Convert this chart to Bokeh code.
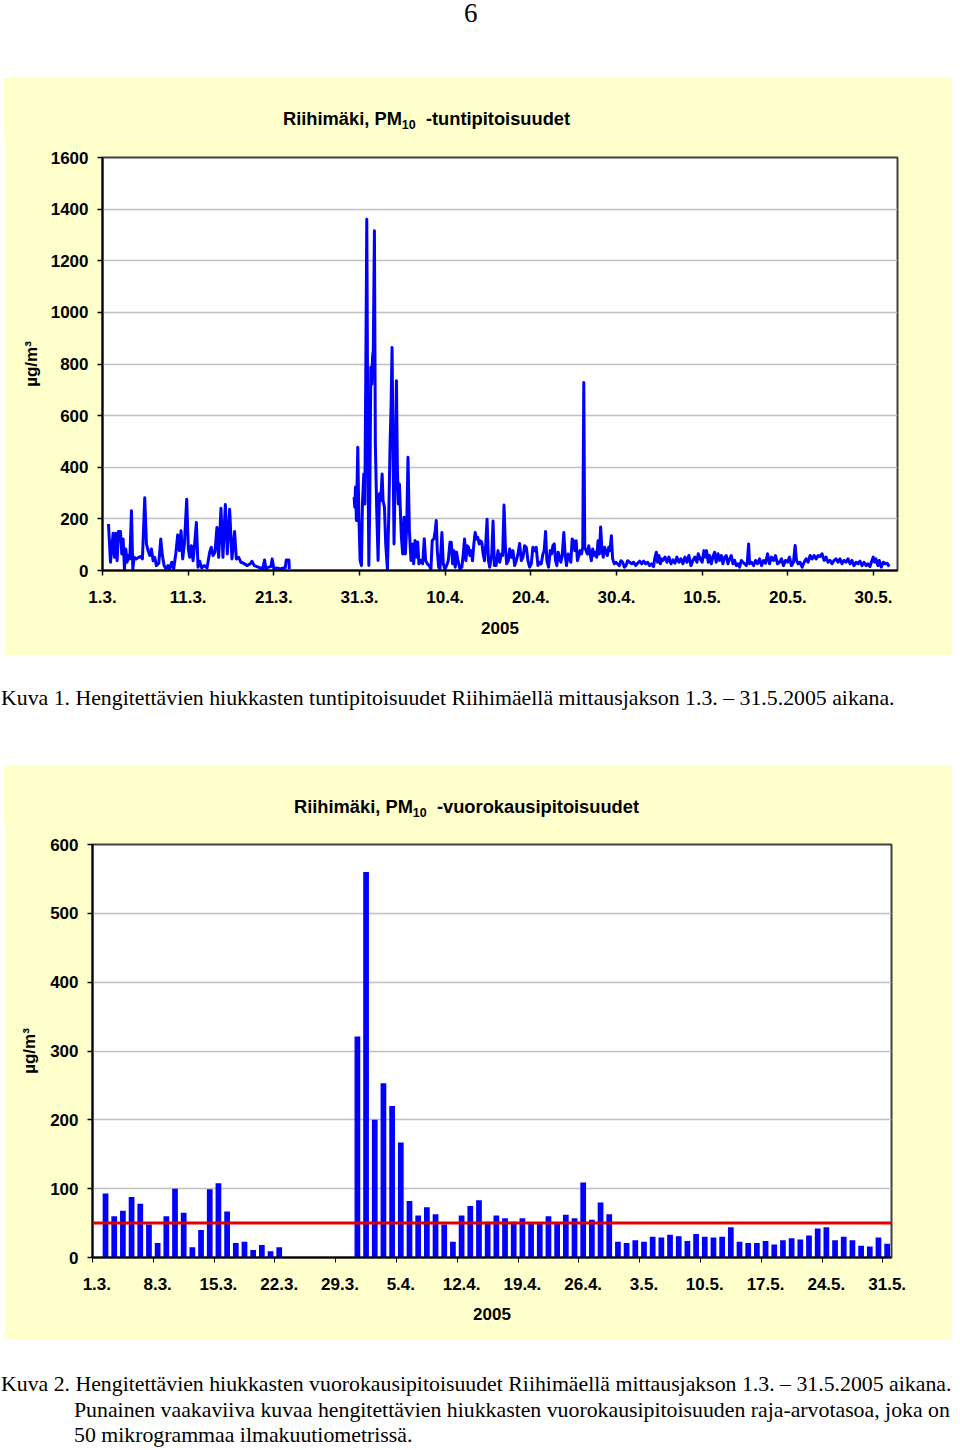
import math
from bokeh.plotting import figure
from bokeh.models import FixedTicker, Span, Div, Range1d
from bokeh.layouts import column
from bokeh.embed import file_html
from bokeh.resources import INLINE

# ---------------- data ----------------
# hourly PM10 (day offset from 1.3.2005 00:00, ug/m3)
hourly_a = [(0.70,180),(0.93,32),(1.24,144),(1.40,51),(1.55,144),(1.71,38),(1.86,151),(2.10,151),
            (2.25,64),(2.41,122),(2.56,6),(2.72,83),(2.87,32),(3.03,58),(3.19,45),(3.38,231),(3.54,6),
            (3.69,51),(3.96,45),(4.20,51),(4.43,54),(4.66,45),(4.93,282),(5.13,103),(5.32,77),(5.52,58),
            (5.71,83),(5.91,38),(6.10,51),(6.29,19),(6.57,28),(6.80,122),(6.99,58),(7.19,19),(7.42,6),
            (7.65,19),(7.85,6),(8.08,32),(8.31,6),(8.55,64),(8.78,138),(8.97,77),(9.17,154),(9.36,45),
            (9.56,103),(9.83,276),(10.02,83),(10.18,51),(10.37,96),(10.57,38),(10.72,90),(10.96,186),
            (11.15,13),(11.34,36),(11.58,10),(11.89,19),(12.20,10),(12.51,71),(12.70,90),(12.90,58),
            (13.13,71),(13.36,167),(13.56,51),(13.83,241),(14.06,51),(14.34,256),(14.57,64),(14.84,237),
            (15.11,45),(15.42,151),(15.62,45),(15.89,51),(16.16,32),(16.47,28),(16.86,19),(17.25,26),
            (17.44,36),(17.72,19),(18.03,15),(18.41,10),(18.69,6),(18.92,41),(19.08,6),(19.38,13),
            (19.66,15),(19.81,45),(20.01,6),(20.36,10),(20.74,6),(21.13,10),(21.33,10),(21.45,41),
            (21.76,41),(21.80,6)]
hourly_b = [(29.37,284),(29.45,245),(29.53,323),(29.64,194),(29.80,477),(29.91,232),(30.07,39),
            (30.23,19),(30.34,258),(30.50,374),(30.62,258),(30.73,748),(30.85,1361),(30.97,490),
            (31.09,19),(31.20,271),(31.32,787),(31.44,722),(31.52,826),(31.61,851),(31.74,1316),
            (31.85,490),(32.01,232),(32.17,39),(32.33,297),(32.48,271),(32.64,374),(32.75,271),
            (32.91,245),(33.06,103),(33.26,3),(33.41,206),(33.57,490),(33.69,645),(33.80,864),
            (33.92,452),(34.03,103),(34.15,335),(34.31,735),(34.42,400),(34.54,258),(34.66,335),
            (34.77,232),(34.89,129),(35.04,64),(35.20,206),(35.35,64),(35.51,168),(35.66,439),
            (35.82,155),(36.01,39),(36.17,103),(36.32,26),(36.48,116),(36.63,52),(36.79,110),
            (36.94,26),(37.14,39),(37.37,26),(37.56,123),(37.72,39),(37.91,26),(38.14,19),(38.34,6),
            (38.49,116),(38.69,123),(38.84,155),(38.96,194),(39.08,77),(39.24,13),(39.39,6),
            (39.62,147),(39.78,26),(39.97,6),(40.17,19),(40.36,38),(40.56,109),(40.71,109),(40.87,26),
            (41.02,77),(41.18,13),(41.33,71),(41.49,38),(41.72,6),(41.95,13),(42.11,64),(42.26,122),
            (42.42,38),(42.57,96),(42.73,90),(42.88,58),(43.04,77),(43.19,38),(43.35,103),(43.50,147),
            (43.66,122),(43.81,128),(43.97,103),(44.12,115),(44.28,109),(44.43,64),(44.59,38),
            (44.74,103),(44.89,199),(45.05,38),(45.20,13),(45.44,64),(45.59,192),(45.74,19),
            (45.94,19),(46.17,77),(46.37,32),(46.56,64),(46.71,58),(46.87,254),(47.03,90),(47.18,26),
            (47.37,38),(47.53,83),(47.72,51),(47.91,77),(48.11,19),(48.30,38),(48.50,64),(48.69,105),
            (48.89,38),(49.08,51),(49.27,96),(49.47,90),(49.66,38),(49.86,13),(50.05,26),(50.24,90),
            (50.44,77),(50.63,90),(50.83,19),(51.02,32),(51.21,26),(51.41,64),(51.56,77),(51.72,151),
            (51.87,38),(52.07,13),(52.26,77),(52.42,64),(52.57,96),(52.73,103),(52.88,38),(53.04,19),
            (53.19,71),(53.35,51),(53.50,32),(53.66,58),(53.85,147),(54.01,58),(54.16,19),(54.36,64),
            (54.51,45),(54.67,32),(54.82,122),(54.98,115),(55.13,77),(55.29,115),(55.44,38),
            (55.60,58),(55.75,77),(55.91,64),(56.06,90),(56.18,728),(56.29,90),(56.45,77),(56.60,64),
            (56.76,96),(56.91,64),(57.07,38),(57.22,83),(57.38,58),(57.53,71),(57.69,51),(57.84,115),
            (58.00,64),(58.15,169),(58.31,77),(58.46,51),(58.62,90),(58.78,71),(58.93,58),(59.09,90),
            (59.24,77),(59.40,135),(59.55,45),(59.74,26),(59.94,32),(60.13,26),(60.33,19),(60.52,38),
            (60.72,32),(60.91,13),(61.11,19),(61.30,38),(61.77,26),(62.00,32),(62.23,19),(62.47,28),
            (62.70,36),(62.94,26),(63.17,36),(63.40,26),(63.63,32),(63.87,19),(64.10,26),(64.33,15),
            (64.49,52),(64.65,71),(64.80,32),(64.96,58),(65.12,26),(65.27,45),(65.42,39),(65.66,52),
            (65.89,32),(66.12,52),(66.36,26),(66.59,41),(66.82,28),(67.05,52),(67.29,32),(67.52,45),
            (67.75,26),(67.99,52),(68.22,32),(68.45,58),(68.69,19),(68.92,39),(69.15,52),(69.39,32),
            (69.54,65),(69.77,45),(70.00,32),(70.20,77),(70.35,52),(70.51,77),(70.71,32),(70.86,58),
            (71.06,26),(71.25,52),(71.45,71),(71.64,32),(71.84,65),(72.03,39),(72.23,58),(72.42,26),
            (72.62,52),(72.81,58),(73.01,26),(73.20,45),(73.40,58),(73.59,26),(73.79,39),(73.98,19),
            (74.18,26),(74.37,13),(74.57,39),(74.76,32),(74.96,26),(75.15,19),(75.27,32),(75.42,103),
            (75.53,26),(75.77,32),(76.00,19),(76.23,39),(76.46,26),(76.70,45),(76.93,19),(77.16,39),
            (77.40,28),(77.63,65),(77.86,26),(78.09,52),(78.33,39),(78.56,58),(78.79,26),(79.03,32),
            (79.26,45),(79.49,19),(79.72,39),(79.96,32),(80.19,52),(80.42,19),(80.66,32),(80.85,97),
            (81.01,39),(81.20,26),(81.43,32),(81.67,13),(81.90,32),(82.13,45),(82.36,32),(82.60,58),
            (82.83,45),(83.06,58),(83.30,45),(83.53,58),(83.76,54),(83.99,65),(84.23,39),(84.46,52),
            (84.69,32),(84.93,39),(85.16,26),(85.39,39),(85.62,45),(85.86,32),(86.09,45),(86.32,26),
            (86.56,39),(86.79,32),(87.02,45),(87.26,26),(87.49,39),(87.72,19),(87.96,32),(88.19,26),
            (88.42,36),(88.65,19),(88.89,32),(89.12,19),(89.35,26),(89.59,15),(89.82,39),(89.97,52),
            (90.13,32),(90.28,45),(90.51,19),(90.67,39),(90.90,13),(91.14,32),(91.37,26),(91.60,28),
            (91.83,15)]

hourly_tick_days = [0, 10, 20, 30, 40, 50, 60, 70, 80, 90]
hourly_tick_labels = ["1.3.", "11.3.", "21.3.", "31.3.", "10.4.", "20.4.", "30.4.", "10.5.", "20.5.", "30.5."]

# daily means, one per day 1.3. ... 31.5. (None = no valid mean)
daily_values = [None, 93, 60, 68, 88, 78, 48, 21, 60, 100, 65, 15, 40, 99, 108, 67, 21, 23, 11, 18, 9, 15,
                None, None, None, None, None, None, None, None,
                321, 560, 200, 253, 220, 167, 82, 61, 73, 63, 48, 23, 61, 75, 83, 52, 61, 57, 52, 57,
                51, 50, 60, 50, 62, 57, 109, 55, 80, 63, 23, 21, 25, 23, 30, 29, 33, 31, 24, 34,
                30, 29, 30, 44, 23, 21, 21, 24, 19, 25, 28, 26, 32, 42, 44, 25, 30, 25, 17, 16, 29, 20]
daily_tick_labels = ["1.3.", "8.3.", "15.3.", "22.3.", "29.3.", "5.4.", "12.4.", "19.4.", "26.4.",
                     "3.5.", "10.5.", "17.5.", "24.5.", "31.5."]
limit_value = 50

# ---------------- styling ----------------
FONT = "Liberation Sans"
PANEL = "#FFFFCC"
BLUE = "#0000FF"


def style(p, ylabel):
    p.xgrid.visible = False
    p.ygrid.grid_line_color = "#C0C0C0"
    p.ygrid.grid_line_width = 1.5
    p.outline_line_color = "#404040"
    p.outline_line_width = 2
    for ax in (p.xaxis[0], p.yaxis[0]):
        ax.axis_line_color = "black"
        ax.axis_line_width = 2
        ax.major_tick_line_color = "black"
        ax.major_tick_line_width = 1.5
        ax.major_tick_in = 0
        ax.major_tick_out = 5
        ax.minor_tick_line_color = None
        ax.major_label_text_font = FONT
        ax.major_label_text_font_size = "17px"
        ax.major_label_text_font_style = "bold"
        ax.major_label_text_color = "black"
        ax.axis_label_text_font = FONT
        ax.axis_label_text_font_size = "17px"
        ax.axis_label_text_font_style = "bold"
        ax.axis_label_text_color = "black"
    p.xaxis.axis_label = "2005"
    p.yaxis.axis_label = ylabel
    p.yaxis.major_label_standoff = 9


def title_div(rest, left, top):
    html = (f"<div style=\"background:{PANEL};width:948px;height:61px;position:relative;\">"
            f"<div style=\"position:absolute;left:{left}px;top:{top}px;font-family:'{FONT}',sans-serif;"
            "font-weight:bold;font-size:18.3px;line-height:20px;white-space:nowrap;color:black;\">"
            "Riihimäki, PM<span style=\"font-size:12.5px;position:relative;top:4px;\">10</span>"
            f"&nbsp; {rest}</div></div>")
    return Div(text=html, width=948, height=60, margin=(0, 0, 0, 4),
               styles={"background-color": PANEL, "overflow": "visible"})


# ---------------- figure 1: hourly ----------------
hx = [d for d, v in hourly_a] + [math.nan] + [d for d, v in hourly_b]
hy = [v for d, v in hourly_a] + [math.nan] + [v for d, v in hourly_b]

p1 = figure(width=948, height=517, x_range=Range1d(0, 92.8), y_range=Range1d(0, 1600),
            output_backend="svg", toolbar_location=None, margin=(0, 0, 0, 4),
            min_border_left=98, min_border_right=55, min_border_top=19, min_border_bottom=85,
            background_fill_color="white", border_fill_color=PANEL)
p1.line(hx, hy, line_color=BLUE, line_width=3, line_join="round")
p1.xaxis.ticker = FixedTicker(ticks=hourly_tick_days)
p1.xaxis.major_label_overrides = {d: l for d, l in zip(hourly_tick_days, hourly_tick_labels)}
p1.yaxis.ticker = FixedTicker(ticks=list(range(0, 1601, 200)))
style(p1, "µg/m³")
p1.xaxis.major_label_standoff = 15
p1.xaxis.axis_label_standoff = 16
p1.yaxis.axis_label_standoff = 7

# ---------------- figure 2: daily ----------------
bx = [i + 0.5 for i, v in enumerate(daily_values) if v is not None]
by = [v for v in daily_values if v is not None]
label_pos = [i + 0.5 for i in range(0, len(daily_values), 7)]
bound_pos = [i for i in range(0, len(daily_values), 7)]

p2 = figure(width=948, height=515, x_range=Range1d(0, len(daily_values)), y_range=Range1d(0, 600),
            output_backend="svg", toolbar_location=None, margin=(0, 0, 0, 4),
            min_border_left=88, min_border_right=61, min_border_top=19, min_border_bottom=83,
            background_fill_color="white", border_fill_color=PANEL)
p2.vbar(x=bx, top=by, width=0.66, fill_color=BLUE, line_color=None)
p2.add_layout(Span(location=limit_value, dimension="width", line_color="#E00000", line_width=3))
p2.xaxis.ticker = FixedTicker(ticks=label_pos, minor_ticks=bound_pos)
p2.xaxis.major_label_overrides = {x: l for x, l in zip(label_pos, daily_tick_labels)}
p2.yaxis.ticker = FixedTicker(ticks=list(range(0, 601, 100)))
style(p2, "µg/m³")
p2.xaxis.major_tick_line_color = None
p2.xaxis.minor_tick_line_color = "black"
p2.xaxis.minor_tick_in = 0
p2.xaxis.minor_tick_out = 5
p2.xaxis.major_label_standoff = 15
p2.xaxis.axis_label_standoff = 15
p2.yaxis.axis_label_standoff = 8

# ---------------- page texts ----------------
cap_style = ("position:relative;left:1px;font-family:'Liberation Serif',serif;font-size:21.8px;"
             "line-height:25.5px;white-space:nowrap;color:black;")
page_no = Div(text="<div style=\"position:relative;left:464px;top:0px;font-family:'Liberation Serif',serif;"
                   "font-size:27px;line-height:27px;\">6</div>", width=948, height=78, margin=0)
t1 = title_div("-tuntipitoisuudet", 279, 31)
cap1 = Div(text=f"<div style=\"{cap_style}padding-top:31px;\">Kuva 1. Hengitettävien hiukkasten "
                "tuntipitoisuudet Riihimäellä mittausjakson 1.3. – 31.5.2005 aikana.</div>",
           width=948, height=110, margin=0)
t2 = title_div("-vuorokausipitoisuudet", 290, 32)
cap2 = Div(text=f"<div style=\"{cap_style}padding-top:32px;\">Kuva 2. Hengitettävien hiukkasten "
                "vuorokausipitoisuudet Riihimäellä mittausjakson 1.3. – 31.5.2005 aikana.<br>"
                "<span style=\"padding-left:73px;\">Punainen vaakaviiva kuvaa hengitettävien hiukkasten "
                "vuorokausipitoisuuden raja-arvotasoa, joka on</span><br>"
                "<span style=\"padding-left:73px;\">50 mikrogrammaa ilmakuutiometrissä.</span></div>",
           width=948, height=110, margin=0)

# two separate roots so that the two plot frames are not aligned with each other
root_top = column(page_no, t1, p1, cap1, spacing=0)
root_bottom = column(t2, p2, cap2, spacing=0)

open("out.html", "w").write(file_html([root_top, root_bottom], INLINE))
